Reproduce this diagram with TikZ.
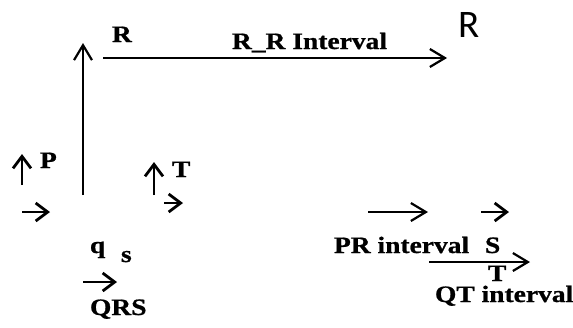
\documentclass[tikz,border=0pt]{standalone}
\usepackage{fontspec}
\usepackage{graphicx}
\setmainfont{Liberation Serif}
\newfontfamily\lblfont[FakeBold=0.8]{Liberation Serif Bold}
\newfontfamily\rsans{Carlito}
\usetikzlibrary{arrows.meta}
\newcommand{\wx}[1]{\scalebox{1.17}[1]{#1}}
\tikzset{
  lbl/.style={inner sep=0pt, outer sep=0pt, anchor=base west, font=\fontsize{23.5}{24}\selectfont\lblfont},
  bigarrow/.style={line width=2.2pt, -{Straight Barb[length=15pt,width=18pt,line width=2.2pt]}},
  smallarrow/.style={line width=2.8pt, -{Straight Barb[length=12pt,width=18pt,line width=2.8pt]}}
}
\begin{document}
\begin{tikzpicture}[x=1pt,y=-1pt]
\useasboundingbox (0,0) rectangle (573,327);
% coordinates
\coordinate (rb) at (83,195);
\coordinate (rt) at (83,43);
\coordinate (rrs) at (103,58);
\coordinate (rre) at (447,58);
\coordinate (pb) at (22,185);
\coordinate (pt) at (22,154);
\coordinate (bls) at (22,212);
\coordinate (ble) at (50,212);
\coordinate (tb) at (154,195);
\coordinate (tt) at (154,162);
\coordinate (trs) at (164,203);
\coordinate (tre) at (183,203);
\coordinate (qs) at (83,282);
\coordinate (qe) at (117,282);
\coordinate (prs) at (368,212);
\coordinate (pre) at (428,212);
\coordinate (ss) at (481,212);
\coordinate (se) at (509,212);
\coordinate (qts) at (429,262);
\coordinate (qte) at (530,262);
% labels
\node[lbl] (lR) at (112,42) {\wx{R}};
\node[lbl] (lRR) at (232,49) {\wx{R\_R Interval}};
\node[inner sep=0pt, anchor=base west, font=\fontsize{39}{40}\selectfont\rsans] (lR2) at (458,37) {R};
\node[lbl] (lP) at (40,168) {\wx{P}};
\node[lbl] (lT) at (172,177) {\wx{T}};
\node[lbl] (lq) at (90,253) {\wx{q}};
\node[lbl] (ls) at (121,262) {\wx{s}};
\node[lbl] (lQRS) at (90,315) {\wx{QRS}};
\node[lbl] (lPR) at (334,253) {\wx{PR interval}};
\node[lbl] (lS) at (485,253) {\wx{S}};
\node[lbl] (lT2) at (488,281) {\wx{T}};
\node[lbl] (lQT) at (435,302) {\wx{QT interval}};
% arrows
\draw[bigarrow] (rb) -- (rt);
\draw[bigarrow] (rrs) -- (rre);
\draw[bigarrow] (prs) -- (pre);
\draw[bigarrow] (qts) -- (qte);
\draw[smallarrow] (pb) -- (pt);
\draw[smallarrow] (bls) -- (ble);
\draw[smallarrow] (tb) -- (tt);
\draw[smallarrow] (trs) -- (tre);
\draw[smallarrow] (qs) -- (qe);
\draw[smallarrow] (ss) -- (se);
\end{tikzpicture}
\end{document}
